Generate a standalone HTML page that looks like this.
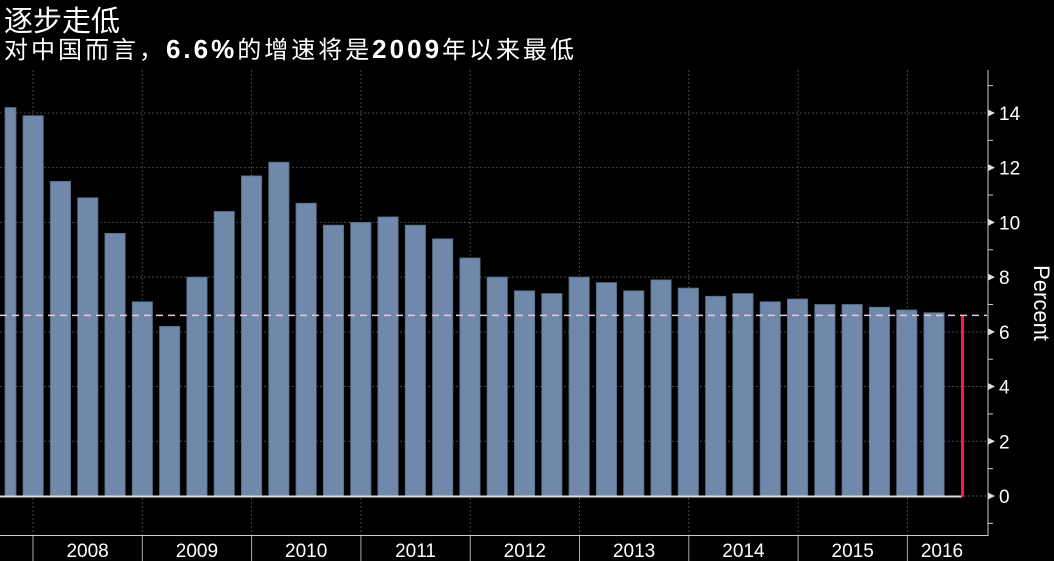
<!DOCTYPE html>
<html><head><meta charset="utf-8">
<style>
html,body{margin:0;padding:0;background:#000;width:1054px;height:561px;overflow:hidden}
svg{display:block}
text{font-family:"Liberation Sans","Noto Sans CJK SC",sans-serif;fill:#fff}
</style></head><body>
<svg id="c" width="1054" height="561" xmlns="http://www.w3.org/2000/svg">
<text x="4" y="31" font-size="29">逐步走低</text>
<text x="4" y="58" font-size="24" textLength="570" lengthAdjust="spacing">对中国而言，<tspan font-weight="bold" font-size="26">6.6%</tspan>的增速将是<tspan font-weight="bold" font-size="26">2009</tspan>年以来最低</text>
<g id="g"></g>
</svg>
<script>
var g=document.getElementById('g'),s='';
function Y(v){return 496-v*27.36;}
[0,2,4,6,8,10,12,14].forEach(function(v){s+='<line x1="0" x2="987" y1="'+Y(v)+'" y2="'+Y(v)+'" stroke="#444" stroke-dasharray="2,2"/>';});
for(var k=0;k<9;k++){var x=33+k*109.3;s+='<line x1="'+x+'" x2="'+x+'" y1="70" y2="535" stroke="#444" stroke-dasharray="2,2"/><line x1="'+x+'" x2="'+x+'" y1="535" y2="561" stroke="#aaa"/>';}
var d=[14.2,13.9,11.5,10.9,9.6,7.1,6.2,8.0,10.4,11.7,12.2,10.7,9.9,10.0,10.2,9.9,9.4,8.7,8.0,7.5,7.4,8.0,7.8,7.5,7.9,7.6,7.3,7.4,7.1,7.2,7.0,7.0,6.9,6.8,6.7];
d.forEach(function(v,i){var l=23+(i-1)*27.3,r=l+20.3;if(l<5)l=5;s+='<rect x="'+l+'" y="'+Y(v)+'" width="'+(r-l)+'" height="'+(496-Y(v))+'" fill="#7089aa" stroke="#56677e" stroke-width="0.8"/>';});
s+='<line x1="0" x2="962" y1="496.5" y2="496.5" stroke="#ddd" stroke-width="2"/>';
s+='<line x1="962.5" x2="962.5" y1="'+Y(6.6)+'" y2="497" stroke="#ff1a3c" stroke-width="3"/>';
s+='<line x1="0" x2="987" y1="'+Y(6.6)+'" y2="'+Y(6.6)+'" stroke="#e8c8e0" stroke-width="1.5" stroke-dasharray="7,5"/>';
s+='<line x1="988" x2="988" y1="70" y2="536" stroke="#ccc"/><line x1="0" x2="988" y1="535.5" y2="535.5" stroke="#ccc"/>';
for(var v=-1;v<=15;v++){var y=Y(v);if(y<70)continue;if(v%2==0&&v>=0){s+='<path d="M988 '+(y-3.5)+'L995 '+y+'L988 '+(y+3.5)+'Z" fill="#ddd"/><text x="999" y="'+(y+7)+'" font-size="19">'+v+'</text>';}else s+='<line x1="988" x2="993" y1="'+y+'" y2="'+y+'" stroke="#ccc"/>';}
s+='<text transform="translate(1034,303) rotate(90)" font-size="22" text-anchor="middle">Percent</text>';
for(var k=0;k<9;k++){var x=33+k*109.3+54.6;if(k==8)x=942;s+='<text x="'+x+'" y="557" font-size="19" text-anchor="middle">'+(2008+k)+'</text>';}
g.innerHTML=s;
</script>
</body></html>
